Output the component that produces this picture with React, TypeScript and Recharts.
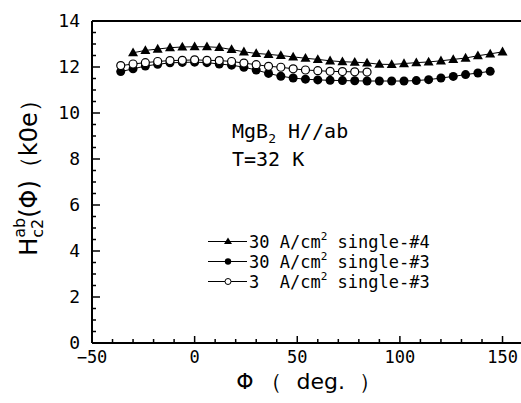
import React from 'react';
import { LineChart, Line, XAxis, YAxis, ReferenceLine, Legend, Label, Customized } from 'recharts';

// ---- data ----
const phiSingle4 = [-30, -24, -18, -12, -6, 0, 6, 12, 18, 24, 30, 36, 42, 48, 54, 60, 66, 72, 78, 84, 90, 96, 102, 108, 114, 120, 126, 132, 138, 144, 150];
const hcSingle4 = [12.62, 12.72, 12.78, 12.84, 12.87, 12.88, 12.88, 12.85, 12.76, 12.66, 12.59, 12.55, 12.5, 12.44, 12.38, 12.33, 12.27, 12.23, 12.21, 12.18, 12.12, 12.11, 12.15, 12.19, 12.22, 12.27, 12.33, 12.39, 12.49, 12.57, 12.66];

const phiSingle3High = [-36, -30, -24, -18, -12, -6, 0, 6, 12, 18, 24, 30, 36, 42, 48, 54, 60, 66, 72, 78, 84, 90, 96, 102, 108, 114, 120, 126, 132, 138, 144];
const hcSingle3High = [11.8, 11.92, 12.04, 12.12, 12.18, 12.2, 12.21, 12.19, 12.13, 12.08, 11.99, 11.87, 11.72, 11.6, 11.52, 11.47, 11.44, 11.42, 11.41, 11.4, 11.39, 11.39, 11.39, 11.39, 11.41, 11.45, 11.52, 11.59, 11.67, 11.74, 11.81];

const phiSingle3Low = [-36, -30, -24, -18, -12, -6, 0, 6, 12, 18, 24, 30, 36, 42, 48, 54, 60, 66, 72, 78, 84];
const hcSingle3Low = [12.06, 12.13, 12.19, 12.24, 12.28, 12.29, 12.31, 12.29, 12.28, 12.24, 12.17, 12.1, 12.03, 11.99, 11.92, 11.87, 11.84, 11.81, 11.8, 11.79, 11.78];

const seriesLabels = ['30 A/cm² single-#4', '30 A/cm² single-#3', '3  A/cm² single-#3'];

const xTicks = [-50, -40, -30, -20, -10, 0, 10, 20, 30, 40, 50, 60, 70, 80, 90, 100, 110, 120, 130, 140, 150];
const xTickLabels = [-50, 0, 50, 100, 150];
const yTicks = [0, 0.5, 1, 1.5, 2, 2.5, 3, 3.5, 4, 4.5, 5, 5.5, 6, 6.5, 7, 7.5, 8, 8.5, 9, 9.5, 10, 10.5, 11, 11.5, 12, 12.5, 13, 13.5, 14];
const yTickLabels = [0, 2, 4, 6, 8, 10, 12, 14];

const toRows = (phi: number[], hc: number[]) => phi.map((p, i) => ({ phi: p, hc: hc[i] }));
const dataSingle4 = toRows(phiSingle4, hcSingle4);
const dataSingle3High = toRows(phiSingle3High, hcSingle3High);
const dataSingle3Low = toRows(phiSingle3Low, hcSingle3Low);

const MONO = "'DejaVu Sans Mono', monospace";
const SANS = "'DejaVu Sans', sans-serif";

const XTick = (props: any) => {
  const { x, y, payload } = props;
  const major = xTickLabels.includes(payload.value);
  const label = String(payload.value).replace('-', '\u2212');
  return (
    <g>
      <line x1={x} x2={x} y1={y} y2={y - (major ? 7 : 4)} stroke="#000" strokeWidth={1.5} />
      {major && (
        <text x={x} y={y + 20} textAnchor="middle" fontFamily={MONO} fontSize={17} fill="#000">{label}</text>
      )}
    </g>
  );
};

const YTick = (props: any) => {
  const { x, y, payload } = props;
  const major = yTickLabels.includes(payload.value);
  return (
    <g>
      <line x1={x} x2={x + (major ? 8 : 4)} y1={y} y2={y} stroke="#000" strokeWidth={1.5} />
      {major && (
        <text x={x - 12} y={y} dy="0.34em" textAnchor="end" fontFamily={MONO} fontSize={18} fill="#000">{payload.value}</text>
      )}
    </g>
  );
};

const TriangleDot = (props: any) => {
  const { cx, cy, index } = props;
  if (cx == null || cy == null) return <g key={index} />;
  return <polygon key={index} points={`${cx},${cy - 5.2} ${cx - 5},${cy + 3.6} ${cx + 5},${cy + 3.6}`} fill="#000" />;
};

const XTitle = (props: any) => {
  const vb = props.viewBox;
  const cx = vb.x + vb.width / 2 + 2;
  return (
    <text x={cx} y={vb.y + 46} textAnchor="middle" fontFamily={SANS} fontSize={22} fill="#000" style={{ whiteSpace: 'pre' }}>
      {'Φ （  deg.  ）'}
    </text>
  );
};

const YTitle = (props: any) => {
  const vb = props.viewBox;
  const cx = 29;
  const cy = vb.y + vb.height / 2 - 10;
  return (
    <text x={cx} y={cy} textAnchor="middle" transform={`rotate(-90 ${cx} ${cy})`} fontFamily={SANS} fontSize={24} fill="#000">
      <tspan>H</tspan>
      <tspan fontSize={16} dy={6}>c2</tspan>
      <tspan fontSize={16} dx={-19} dy={-18}>ab</tspan>
      <tspan dy={12}>(Φ)（k0e）</tspan>
    </text>
  );
};

const Annotation = () => (
  <g fontFamily={MONO} fill="#000">
    <text x={224} y={130} fontSize={20}>
      MgB<tspan fontSize={13} dy={5}>2</tspan><tspan dy={-5}> H//ab</tspan>
    </text>
    <text x={224} y={158} fontSize={20}>T=32 K</text>
  </g>
);

const LegendContent = () => {
  const markers = ['triangle', 'filled', 'open'];
  return (
    <svg width={270} height={70} style={{ display: 'block' }}>
      {seriesLabels.map((label, i) => {
        const cy = 13.5 + i * 20;
        const parts = label.split('²');
        return (
          <g key={i}>
            <line x1={8} x2={47} y1={cy} y2={cy} stroke="#000" strokeWidth={1.2} />
            {markers[i] === 'triangle' && (
              <polygon points={`28,${cy - 4} 24,${cy + 2.5} 32,${cy + 2.5}`} fill="#000" />
            )}
            {markers[i] === 'filled' && <circle cx={28} cy={cy} r={3.2} fill="#000" />}
            {markers[i] === 'open' && <circle cx={28} cy={cy} r={3} fill="#fff" stroke="#000" strokeWidth={1} />}
            <text x={49} y={cy} dy="0.36em" fontFamily={MONO} fontSize={17} fill="#000" style={{ whiteSpace: 'pre' }}>
              {parts[0]}<tspan fontSize={11} dy={-8}>2</tspan><tspan dy={8}>{parts[1]}</tspan>
            </text>
          </g>
        );
      })}
    </svg>
  );
};

export default function App() {
  return (
    <div style={{ position: 'fixed', left: 8, top: 8, width: 513, height: 387, overflow: 'hidden', background: '#fff' }}>
      <LineChart width={513} height={387} margin={{ top: 13, right: 0, bottom: 0, left: 0 }}>
        <XAxis
          type="number"
          dataKey="phi"
          domain={[-50, 159]}
          ticks={xTicks}
          interval={0}
          tickSize={0}
          tickMargin={0}
          tick={<XTick />}
          tickLine={false}
          axisLine={{ stroke: '#000', strokeWidth: 2 }}
          height={52}
          allowDataOverflow
        >
          <Label content={XTitle} />
        </XAxis>
        <YAxis
          type="number"
          dataKey="hc"
          domain={[0, 14]}
          ticks={yTicks}
          interval={0}
          tickSize={0}
          tickMargin={0}
          tick={<YTick />}
          tickLine={false}
          axisLine={{ stroke: '#000', strokeWidth: 2 }}
          width={84}
          allowDataOverflow
        >
          <Label content={YTitle} />
        </YAxis>
        <ReferenceLine y={14} stroke="#000" strokeWidth={2} />
        <Line
          data={dataSingle3High}
          dataKey="hc"
          name={seriesLabels[1]}
          stroke="#000"
          strokeWidth={1}
          dot={{ r: 4.5, fill: '#000', stroke: '#000', strokeWidth: 0 }}
          isAnimationActive={false}
        />
        <Line
          data={dataSingle3Low}
          dataKey="hc"
          name={seriesLabels[2]}
          stroke="#000"
          strokeWidth={1}
          dot={{ r: 4, fill: '#fff', stroke: '#000', strokeWidth: 1.2 }}
          isAnimationActive={false}
        />
        <Line
          data={dataSingle4}
          dataKey="hc"
          name={seriesLabels[0]}
          stroke="#000"
          strokeWidth={1}
          dot={TriangleDot}
          isAnimationActive={false}
        />
        <Legend
          layout="vertical"
          align="center"
          verticalAlign="middle"
          content={LegendContent}
          wrapperStyle={{ position: 'absolute', left: 192, top: 220, width: 270, height: 70 }}
        />
        <Customized component={Annotation} />
      </LineChart>
    </div>
  );
}
